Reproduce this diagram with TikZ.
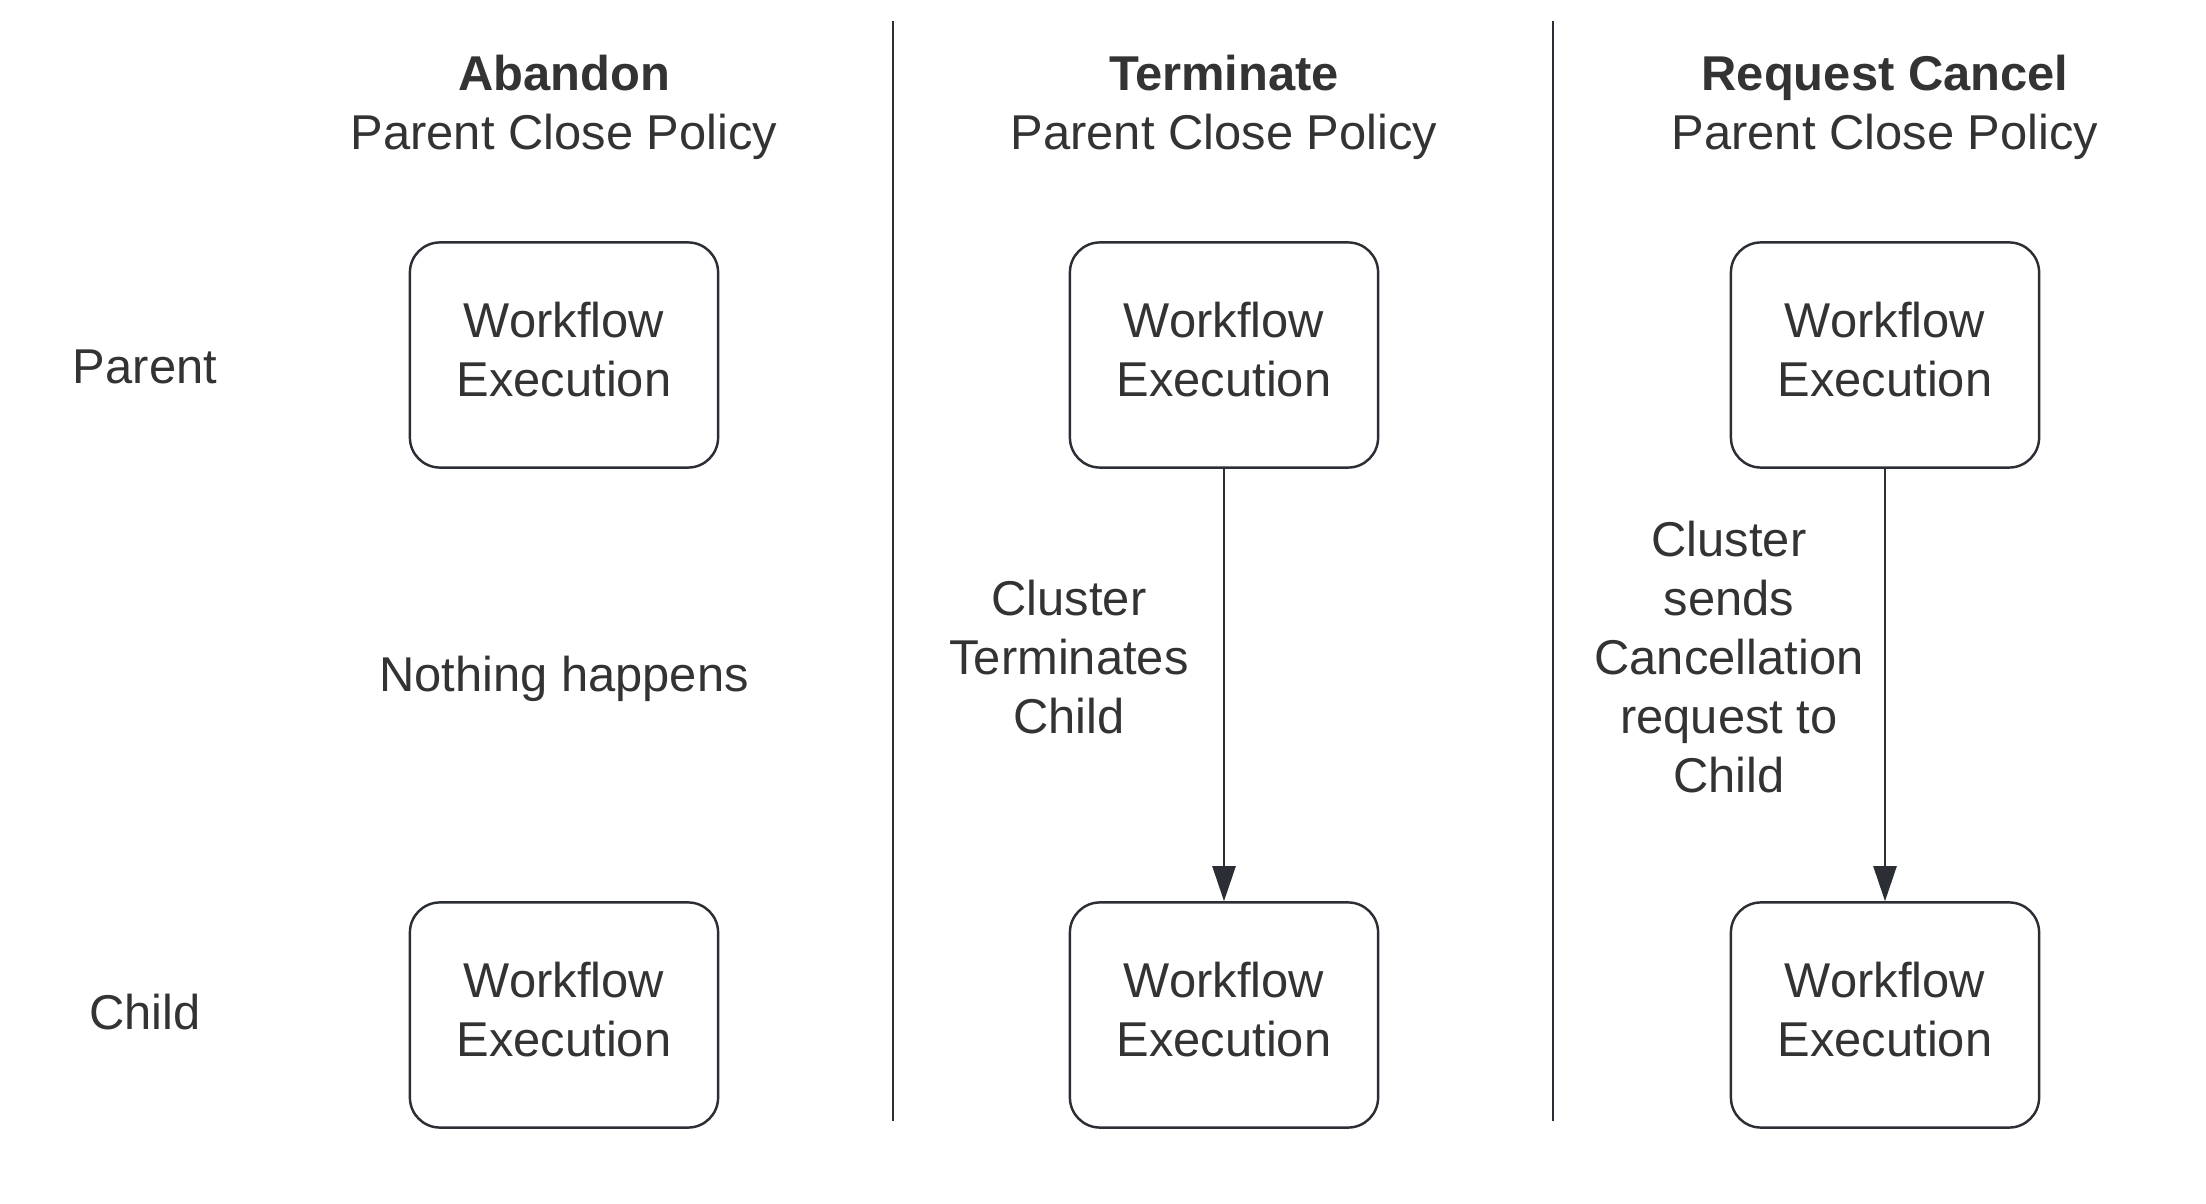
\documentclass[tikz,border=0pt]{standalone}
\usepackage{fontspec}
\setmainfont{Liberation Sans}
\usetikzlibrary{arrows.meta}

\definecolor{ink}{HTML}{2B2E34}
\definecolor{txt}{HTML}{333333}

\tikzset{
    txt/.style={text=txt, font=\fontsize{13.9}{16.8}\selectfont, align=center},
    wfbox/.style={txt, draw=ink, line width=0.7pt, rounded corners=0.3cm,
        minimum width=3.08cm, minimum height=2.25cm, text depth=0.12cm},
    sep/.style={draw=ink, line width=0.8pt},
    flow/.style={draw=ink, line width=0.7pt, -{Triangle[width=0.23cm,length=0.35cm]}}
}

\begin{document}
\begin{tikzpicture}[x=0.01cm, y=-0.01cm]
\useasboundingbox (0,0) rectangle (2206,1204);

% Column separators
\draw[sep] (893,21) -- (893,1121);
\draw[sep] (1553,21) -- (1553,1121);

% Row labels
\node[txt] (parentlbl) at (145,367) {Parent};
\node[txt] (childlbl) at (145,1012) {Child};

% Policy headers
\node[txt] (hdrA) at (564,107) {\textbf{Abandon}\\Parent Close Policy};
\node[txt] (hdrT) at (1224,107) {\textbf{Terminate}\\Parent Close Policy};
\node[txt] (hdrR) at (1885,107) {\textbf{Request Cancel}\\Parent Close Policy};

% Parent and child executions
\foreach \col/\x in {A/564, T/1224, R/1885} {
    \node[wfbox] (par\col) at (\x,355) {Workflow\\Execution};
    \node[wfbox] (chi\col) at (\x,1015) {Workflow\\Execution};
}

% What happens to the child
\node[txt] (nothing) at (564,679) {Nothing happens};

\draw[flow] (parT) -- (chiT);
\node[txt] (termlbl) at (1069,657) {Cluster\\Terminates\\Child};

\draw[flow] (parR) -- (chiR);
\node[txt] (cancellbl) at (1729,657) {Cluster\\sends\\Cancellation\\request to\\Child};

\end{tikzpicture}
\end{document}
